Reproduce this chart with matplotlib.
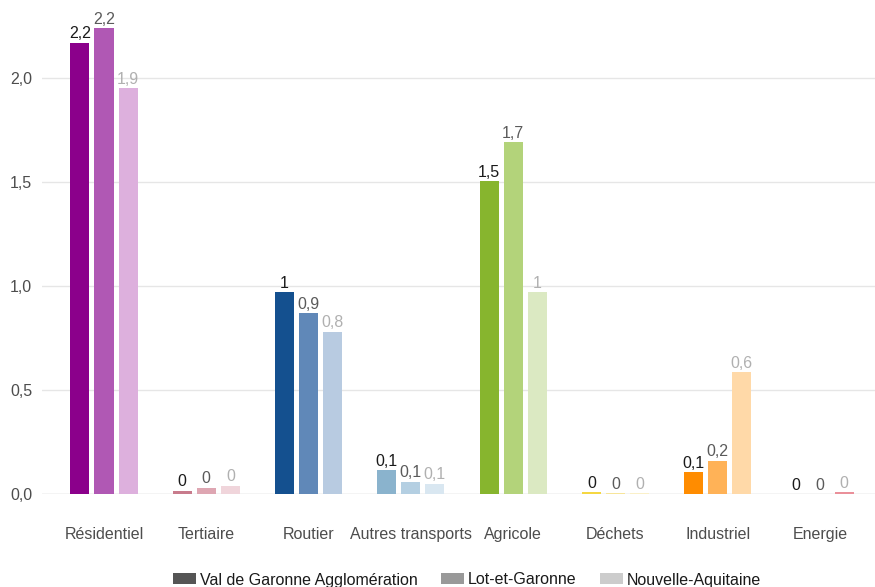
import numpy as np
import matplotlib.pyplot as plt
from matplotlib.patches import Patch

plt.rcParams['font.family'] = ['Liberation Sans', 'DejaVu Sans']

# %%
sectors = ['Résidentiel', 'Tertiaire', 'Routier', 'Autres transports',
           'Agricole', 'Déchets', 'Industriel', 'Energie']
territories = ['Val de Garonne Agglomération', 'Lot-et-Garonne', 'Nouvelle-Aquitaine']

val_vga = [2.17, 0.015, 0.97, 0.115, 1.505, 0.008, 0.105, 0.0]
val_lg = [2.24, 0.03, 0.87, 0.06, 1.69, 0.005, 0.16, 0.0]
val_na = [1.95, 0.04, 0.78, 0.05, 0.97, 0.004, 0.585, 0.01]

# one colour per sector, darkest for the agglomeration, lightest for the region
sector_colours = {
    'Résidentiel': ['#8b008b', '#b058b4', '#ddb0dd'],
    'Tertiaire': ['#c87b8c', '#dea6b2', '#f0d5db'],
    'Routier': ['#14508f', '#6088b8', '#b8cbe1'],
    'Autres transports': ['#8ab3cd', '#b4cfe2', '#d9e7f1'],
    'Agricole': ['#87b52e', '#b3d37a', '#dbe9c2'],
    'Déchets': ['#f5d742', '#f7e59a', '#faf0c8'],
    'Industriel': ['#ff8c00', '#ffb257', '#ffd9a8'],
    'Energie': ['#c0283c', '#d86a78', '#ea909a'],
}
label_colours = ['#1a1a1a', '#5a5a5a', '#b0b0b0']
legend_colours = ['#555555', '#999999', '#cccccc']


def fmt(v):
    s = f"{round(v, 1):.1f}"
    if s.endswith('.0'):
        s = s[:-2]
    return s.replace('.', ',')


# %%
fig = plt.figure(figsize=(8.75, 5.87), dpi=100)
ax = fig.add_axes([42 / 875, (587 - 494) / 587, 833 / 875, 484 / 587])

x = np.arange(len(sectors))
offsets = [-0.235, 0.0, 0.235]
width = 0.186

for i, vals in enumerate([val_vga, val_lg, val_na]):
    cols = [sector_colours[s][i] for s in sectors]
    bars = ax.bar(x + offsets[i], vals, width, color=cols, linewidth=0, zorder=2)
    for b, v in zip(bars, vals):
        ax.annotate(fmt(v), (b.get_x() + b.get_width() / 2, v),
                    xytext=(0, 1), textcoords='offset points',
                    ha='center', va='bottom', fontsize=11.5,
                    color=label_colours[i], zorder=3)

ax.set_xlim(-0.606, 7.537)
ax.set_ylim(0, 2.327)
ax.set_yticks([0, 0.5, 1.0, 1.5, 2.0])
ax.set_yticklabels([f"{t:.1f}".replace('.', ',') for t in [0, 0.5, 1.0, 1.5, 2.0]])
ax.set_xticks(x)
ax.set_xticklabels(sectors)
ax.tick_params(axis='both', length=0, labelsize=11.5, colors='#4d4d4d')
ax.tick_params(axis='y', pad=7)
ax.tick_params(axis='x', pad=24)
ax.grid(axis='y', color='#e6e6e6', linewidth=1, zorder=0)
for sp in ax.spines.values():
    sp.set_visible(False)
ax.axhline(0, color='#dcdcdc', linewidth=1, zorder=1)

handles = [Patch(facecolor=c, edgecolor='none') for c in legend_colours]
fig.legend(handles, territories, loc='center', bbox_to_anchor=(0.534, (587 - 580) / 587),
           ncol=3, frameon=False, fontsize=11.5, handlelength=1.44, handleheight=0.69,
           handletextpad=0.25, columnspacing=1.44, borderpad=0, labelcolor='#1a1a1a')

fig.savefig('out.png', dpi=100)
